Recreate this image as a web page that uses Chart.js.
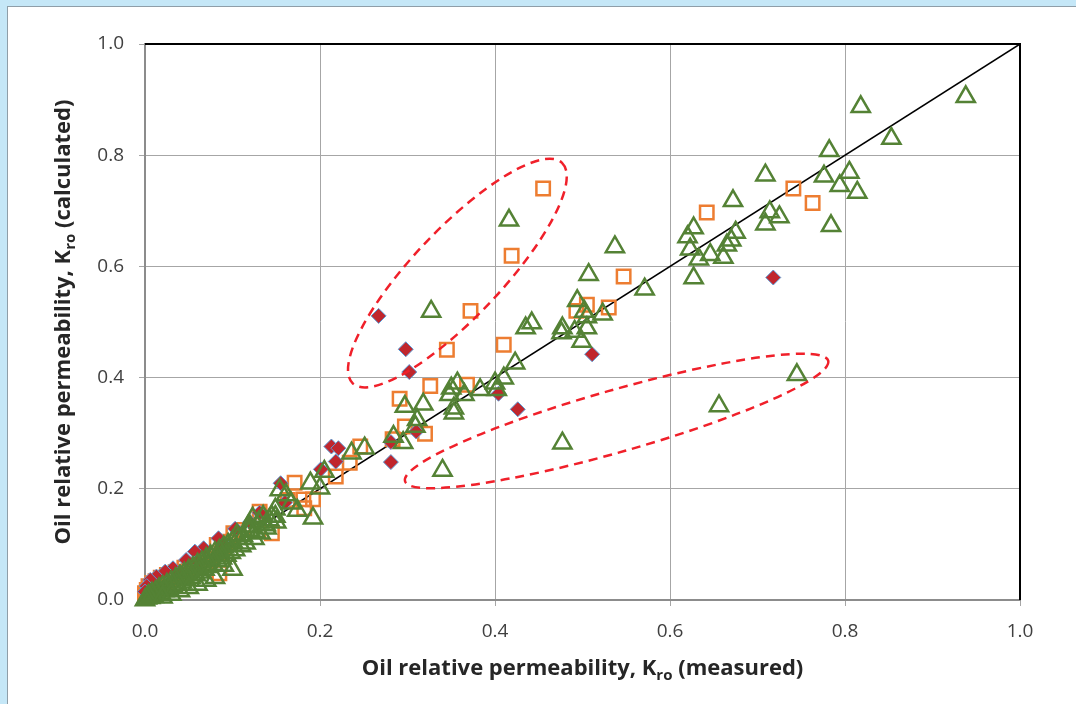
<!DOCTYPE html>
<html><head><meta charset="utf-8">
<script src="https://cdn.jsdelivr.net/npm/chart.js@4.4.1/dist/chart.umd.min.js"></script>
<style>
html,body{margin:0;padding:0;width:1076px;height:704px;overflow:hidden;background:#c5e7f7;}
#panel{position:absolute;left:7px;top:6px;width:1069px;height:698px;background:#fff;border-left:1px solid #8f9ea8;border-top:1px solid #8f9ea8;}
canvas{position:absolute;left:0;top:0;}
</style></head><body><div id="panel"></div><canvas id="c" width="1076" height="704"></canvas>
<script>
const tickLabels = ['0.0','0.2','0.4','0.6','0.8','1.0'];
const xTitleParts = ['Oil relative permeability, K','ro',' (measured)'];
const yTitleParts = ['Oil relative permeability, K','ro',' (calculated)'];

const diamondPts = [
[0.267,0.511],[0.298,0.451],[0.302,0.410],[0.511,0.442],[0.718,0.580],[0.426,0.343],[0.404,0.371],
[0.281,0.284],[0.281,0.248],[0.310,0.303],[0.213,0.276],[0.221,0.273],[0.218,0.249],[0.201,0.235],
[0.155,0.210],[0.131,0.157],[0.103,0.128],[0.084,0.111],[0.067,0.093],[0.057,0.087],[0.047,0.072],
[0.032,0.057],[0.023,0.051],[0.013,0.042],[0.006,0.036],[0.002,0.025],[0.000,0.015],[0.040,0.050],
[0.060,0.070],[0.090,0.100],[0.120,0.140],[0.160,0.175]
];
const squarePts = [
[0.455,0.740],[0.419,0.619],[0.372,0.520],[0.345,0.450],[0.410,0.459],[0.326,0.385],[0.291,0.362],
[0.368,0.387],[0.297,0.312],[0.320,0.299],[0.283,0.289],[0.493,0.520],[0.505,0.531],[0.530,0.526],
[0.547,0.582],[0.642,0.697],[0.741,0.740],[0.763,0.714],[0.246,0.276],[0.234,0.247],[0.218,0.222],
[0.171,0.211],[0.192,0.181],[0.163,0.180],[0.181,0.181],[0.182,0.165],[0.131,0.159],[0.112,0.126],
[0.145,0.120],[0.101,0.120],[0.082,0.099],[0.065,0.081],[0.085,0.048],[0.095,0.105],[0.088,0.084],
[0.075,0.080],[0.070,0.066],[0.065,0.072],[0.060,0.058],[0.055,0.064],[0.050,0.052],[0.045,0.058],
[0.040,0.045],[0.035,0.050],[0.030,0.038],[0.025,0.045],[0.022,0.030],[0.018,0.040],[0.015,0.025],
[0.012,0.034],[0.010,0.018],[0.008,0.030],[0.006,0.010],[0.004,0.025],[0.002,0.018],[0.000,0.012],
[0.000,0.005]
];
const trianglePts = [
[0.938,0.905],[0.818,0.887],[0.853,0.830],[0.782,0.808],[0.709,0.764],[0.776,0.762],[0.805,0.769],
[0.794,0.745],[0.814,0.733],[0.672,0.718],[0.714,0.698],[0.725,0.689],[0.709,0.676],[0.784,0.673],
[0.627,0.669],[0.620,0.653],[0.675,0.661],[0.670,0.647],[0.665,0.638],[0.623,0.631],[0.646,0.621],
[0.661,0.616],[0.633,0.613],[0.627,0.579],[0.537,0.635],[0.507,0.585],[0.571,0.559],[0.416,0.683],
[0.327,0.519],[0.494,0.538],[0.502,0.519],[0.523,0.514],[0.505,0.509],[0.435,0.489],[0.442,0.498],
[0.477,0.489],[0.476,0.480],[0.491,0.483],[0.505,0.489],[0.499,0.465],[0.423,0.426],[0.745,0.405],
[0.656,0.349],[0.477,0.282],[0.340,0.233],[0.402,0.378],[0.410,0.399],[0.400,0.390],[0.383,0.378],
[0.365,0.369],[0.350,0.381],[0.357,0.390],[0.348,0.369],[0.353,0.345],[0.353,0.336],[0.297,0.348],
[0.318,0.352],[0.311,0.324],[0.309,0.312],[0.284,0.294],[0.295,0.283],[0.251,0.273],[0.236,0.264],
[0.205,0.231],[0.154,0.198],[0.189,0.210],[0.200,0.201],[0.161,0.189],[0.167,0.174],[0.174,0.161],
[0.192,0.147],[0.149,0.163],[0.135,0.150],[0.123,0.147],[0.142,0.144],[0.149,0.150],[0.105,0.117],
[0.118,0.132],[0.126,0.123],[0.139,0.129],[0.120,0.132],[0.100,0.055],[0.090,0.062],[0.150,0.140],
[0.145,0.150],[0.138,0.135],[0.132,0.120],[0.130,0.140],[0.125,0.110],[0.120,0.125],[0.115,0.102],
[0.112,0.115],[0.110,0.097],[0.106,0.110],[0.103,0.090],[0.100,0.105],[0.098,0.085],[0.095,0.100],
[0.093,0.080],[0.090,0.095],[0.088,0.075],[0.085,0.089],[0.083,0.070],[0.080,0.085],[0.078,0.064],
[0.075,0.079],[0.072,0.060],[0.070,0.074],[0.068,0.055],[0.065,0.068],[0.062,0.050],[0.060,0.064],
[0.058,0.045],[0.055,0.058],[0.052,0.040],[0.050,0.053],[0.047,0.036],[0.045,0.048],[0.042,0.032],
[0.040,0.043],[0.037,0.028],[0.035,0.038],[0.032,0.024],[0.030,0.033],[0.027,0.020],[0.025,0.028],
[0.022,0.016],[0.020,0.024],[0.018,0.012],[0.016,0.020],[0.014,0.010],[0.012,0.015],[0.010,0.006],
[0.008,0.012],[0.006,0.004],[0.004,0.008],[0.002,0.003],[0.000,0.000],[0.080,0.040],[0.070,0.035],
[0.060,0.028],[0.050,0.022],[0.040,0.016],[0.030,0.010],[0.020,0.005]
];
const parityPts = [[0,0],[1,1]];
const outlierEllipses = [
  {cx:0.357, cy:0.588, a:152, b:44, angle:46.5},
  {cx:0.539, cy:0.322, a:220, b:31, angle:15.9}
];

const toXY = arr => arr.map(p => ({x:p[0], y:p[1]}));
const FONT = '"Open Sans", "DejaVu Sans", sans-serif';

const framePlugin = {
  id:'frame',
  beforeDatasetsDraw(chart){
    const {ctx, chartArea:ca} = chart;
    ctx.save();
    ctx.strokeStyle = '#000'; ctx.lineWidth = 2;
    ctx.beginPath();
    ctx.moveTo(ca.left, ca.top); ctx.lineTo(ca.right, ca.top); ctx.lineTo(ca.right, ca.bottom);
    ctx.stroke();
    ctx.restore();
  },
  afterDatasetsDraw(chart){
    const {ctx, scales:{x, y}} = chart;
    ctx.save();
    ctx.strokeStyle = '#f0202a'; ctx.lineWidth = 2.5; ctx.setLineDash([9,6]);
    outlierEllipses.forEach(e => {
      const px = x.getPixelForValue(e.cx), py = y.getPixelForValue(e.cy);
      ctx.beginPath();
      ctx.ellipse(px, py, e.a, e.b, -e.angle*Math.PI/180, 0, Math.PI*2);
      ctx.stroke();
    });
    ctx.restore();
  },
  afterDraw(chart){
    const {ctx, chartArea:ca} = chart;
    const drawTitle = (parts, cx, cy, rot) => {
      ctx.save();
      ctx.translate(cx, cy);
      if (rot) ctx.rotate(-Math.PI/2);
      const big = 'bold 22px ' + FONT, small = 'bold 15px ' + FONT;
      ctx.font = big; const w1 = ctx.measureText(parts[0]).width, w3 = ctx.measureText(parts[2]).width;
      ctx.font = small; const w2 = ctx.measureText(parts[1]).width;
      let sx = -(w1+w2+w3)/2;
      ctx.fillStyle = '#262626'; ctx.textBaseline = 'alphabetic'; ctx.textAlign = 'left';
      ctx.font = big; ctx.fillText(parts[0], sx, 7);
      ctx.font = small; ctx.fillText(parts[1], sx + w1, 12);
      ctx.font = big; ctx.fillText(parts[2], sx + w1 + w2, 7);
      ctx.restore();
    };
    drawTitle(xTitleParts, (ca.left+ca.right)/2, 668, false);
    drawTitle(yTitleParts, 63, (ca.top+ca.bottom)/2, true);
  }
};

const axisCommon = {
  type:'linear', min:0, max:1,
  grid:{color:'#a6a6a6', lineWidth:1, tickLength:6, drawTicks:true},
  border:{color:'#8c8c8c', width:2},
  ticks:{stepSize:0.2, color:'#404040', font:{family:FONT, size:19},
    callback:(v, i) => tickLabels[i]}
};

new Chart(document.getElementById('c'), {
  type:'scatter',
  data:{datasets:[
    {label:'Triangles', data:toXY(trianglePts), pointStyle:'triangle', pointRadius:10.5,
     borderColor:'#548235', backgroundColor:'rgba(0,0,0,0)', pointBorderWidth:2.5, order:1, clip:false},
    {label:'Diamonds', data:toXY(diamondPts), pointStyle:'rectRot', pointRadius:7.5,
     borderColor:'#5b9bd5', backgroundColor:'#c0262d', pointBorderWidth:1, order:2, clip:false},
    {label:'Squares', data:toXY(squarePts), pointStyle:'rect', pointRadius:9.5,
     borderColor:'#ed7d31', backgroundColor:'rgba(0,0,0,0)', pointBorderWidth:2.5, order:3, clip:false},
    {label:'1:1', data:toXY(parityPts), showLine:true, pointRadius:0, borderColor:'#000',
     borderWidth:1.5, order:4}
  ]},
  options:{
    responsive:false, animation:false, devicePixelRatio:1,
    layout:{padding:{top:44, right:56, left:0, bottom:0}},
    plugins:{legend:{display:false}, tooltip:{enabled:false}},
    scales:{
      x:Object.assign({}, axisCommon, {position:'bottom',
        ticks:Object.assign({}, axisCommon.ticks, {padding:14}),
        afterFit(s){ s.height = 104; }}),
      y:Object.assign({}, axisCommon, {position:'left',
        ticks:Object.assign({}, axisCommon.ticks, {padding:15}),
        afterFit(s){ s.width = 145; }})
    }
  },
  plugins:[framePlugin]
});
</script></body></html>
